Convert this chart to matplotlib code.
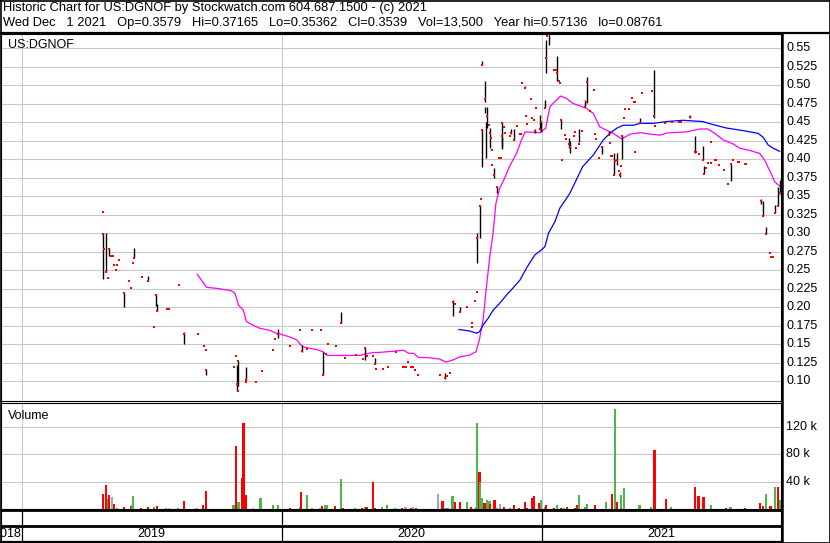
import pandas as pd
import matplotlib
matplotlib.use("Agg")
import matplotlib.pyplot as plt
from matplotlib.lines import Line2D

plt.rcParams['font.family'] = ['Liberation Sans', 'DejaVu Sans']

# ---- data ----
bar_dates = ["2019-04-25", "2019-04-29", "2019-05-03", "2019-05-24", "2019-06-07", "2019-06-27",
             "2019-07-08", "2019-07-10", "2019-08-16", "2019-09-17", "2019-10-30", "2019-11-01",
             "2019-11-11", "2019-12-27", "2020-01-29", "2020-02-28", "2020-03-24", "2020-04-27",
             "2020-05-11", "2020-08-17", "2020-08-28", "2020-09-08", "2020-10-02", "2020-10-05",
             "2020-10-08", "2020-10-09", "2020-10-12", "2020-10-13", "2020-10-14", "2020-10-15",
             "2020-10-20", "2020-10-26", "2020-10-29", "2020-11-05", "2020-11-06", "2020-11-18",
             "2020-11-23", "2020-12-08", "2020-12-22", "2020-12-29", "2020-12-31", "2021-01-05",
             "2021-01-07", "2021-01-11", "2021-01-22", "2021-01-27", "2021-02-08", "2021-02-09",
             "2021-02-22", "2021-03-03", "2021-03-05", "2021-03-26", "2021-04-05", "2021-04-12",
             "2021-04-16", "2021-04-20", "2021-04-23", "2021-05-18", "2021-06-08", "2021-07-28",
             "2021-08-04", "2021-08-16", "2021-08-17", "2021-09-23", "2021-11-05", "2021-11-08",
             "2021-11-12", "2021-11-25", "2021-11-29", "2021-12-01"]
bar_low = [0.238, 0.248, 0.270, 0.201, 0.266, 0.236, 0.202, 0.195, 0.151, 0.1086, 0.0869, 0.0936,
           0.1018, 0.159, 0.140, 0.1085, 0.1784, 0.129, 0.1234, 0.103, 0.188, 0.194, 0.2595, 0.294,
           0.390, 0.527, 0.462, 0.477, 0.402, 0.4427, 0.415, 0.375, 0.354, 0.4135, 0.416, 0.434,
           0.426, 0.497, 0.436, 0.4397, 0.4365, 0.469, 0.517, 0.554, 0.5058, 0.441, 0.415, 0.409,
           0.4235, 0.470, 0.4765, 0.407, 0.4325, 0.379, 0.392, 0.3757, 0.4004, 0.4486, 0.4555, 0.4554,
           0.409, 0.400, 0.381, 0.3711, 0.3396, 0.3238, 0.2995, 0.328, 0.337, 0.35362]
bar_high = [0.300, 0.300, 0.280, 0.220, 0.280, 0.2425, 0.2176, 0.2045, 0.166, 0.1153, 0.122, 0.127,
            0.1193, 0.1703, 0.149, 0.140, 0.1937, 0.145, 0.131, 0.1112, 0.210, 0.2008, 0.300, 0.338,
            0.441, 0.533, 0.470, 0.506, 0.451, 0.4703, 0.442, 0.3886, 0.363, 0.4305, 0.450, 0.441,
            0.441, 0.4995, 0.441, 0.460, 0.452, 0.4805, 0.561, 0.5714, 0.5396, 0.454, 0.429, 0.425,
            0.441, 0.480, 0.511, 0.418, 0.4386, 0.4087, 0.408, 0.3825, 0.4324, 0.4558, 0.521, 0.4595,
            0.4315, 0.418, 0.391, 0.3932, 0.346, 0.3436, 0.308, 0.338, 0.362, 0.37165]

close_dates = ["2019-04-24", "2019-04-25", "2019-04-26", "2019-04-29", "2019-05-01", "2019-05-03",
               "2019-05-06", "2019-05-08", "2019-05-10", "2019-05-13", "2019-05-14", "2019-05-17",
               "2019-05-24", "2019-05-31", "2019-06-03", "2019-06-06", "2019-06-07", "2019-06-18",
               "2019-06-27", "2019-07-05", "2019-07-08", "2019-07-10", "2019-07-24", "2019-07-26",
               "2019-08-09", "2019-08-16", "2019-09-05", "2019-09-13", "2019-09-16", "2019-09-17",
               "2019-10-25", "2019-10-28", "2019-10-30", "2019-10-31", "2019-11-01", "2019-11-11",
               "2019-11-12", "2019-11-25", "2019-12-04", "2019-12-20", "2019-12-23", "2019-12-27",
               "2020-01-13", "2020-01-27", "2020-01-29", "2020-02-06", "2020-02-13", "2020-02-25",
               "2020-02-28", "2020-03-03", "2020-03-06", "2020-03-17", "2020-03-24", "2020-03-30",
               "2020-04-14", "2020-04-24", "2020-04-27", "2020-04-30", "2020-05-08", "2020-05-11",
               "2020-05-12", "2020-05-22", "2020-05-29", "2020-06-10", "2020-06-19", "2020-06-22",
               "2020-06-24", "2020-06-26", "2020-07-01", "2020-07-03", "2020-07-06", "2020-07-10",
               "2020-08-10", "2020-08-17", "2020-08-20", "2020-08-25", "2020-08-28", "2020-08-31",
               "2020-09-08", "2020-09-18", "2020-09-24", "2020-09-25", "2020-09-28", "2020-10-01",
               "2020-10-02", "2020-10-05", "2020-10-07", "2020-10-08", "2020-10-09", "2020-10-13",
               "2020-10-15", "2020-10-19", "2020-10-20", "2020-10-21", "2020-10-22", "2020-10-23",
               "2020-10-26", "2020-10-29", "2020-11-02", "2020-11-04", "2020-11-05", "2020-11-06",
               "2020-11-09", "2020-11-10", "2020-11-17", "2020-11-18", "2020-11-23", "2020-11-27",
               "2020-12-01", "2020-12-03", "2020-12-04", "2020-12-08", "2020-12-10", "2020-12-11",
               "2020-12-16", "2020-12-18", "2020-12-21", "2020-12-22", "2020-12-24", "2020-12-29",
               "2020-12-31", "2021-01-05", "2021-01-07", "2021-01-08", "2021-01-12", "2021-01-18",
               "2021-01-20", "2021-01-22", "2021-01-25", "2021-01-26", "2021-01-27", "2021-01-29",
               "2021-02-02", "2021-02-03", "2021-02-08", "2021-02-09", "2021-02-15", "2021-02-16",
               "2021-02-17", "2021-02-22", "2021-02-26", "2021-03-03", "2021-03-04", "2021-03-05",
               "2021-03-10", "2021-03-15", "2021-03-17", "2021-03-18", "2021-03-22", "2021-03-26",
               "2021-04-05", "2021-04-06", "2021-04-08", "2021-04-09", "2021-04-12", "2021-04-13",
               "2021-04-16", "2021-04-19", "2021-04-20", "2021-04-22", "2021-04-23", "2021-04-26",
               "2021-04-28", "2021-05-03", "2021-05-07", "2021-05-10", "2021-05-11", "2021-05-12",
               "2021-05-18", "2021-05-21", "2021-06-04", "2021-06-08", "2021-06-09", "2021-06-23",
               "2021-07-02", "2021-07-12", "2021-07-16", "2021-07-28", "2021-08-04", "2021-08-05",
               "2021-08-09", "2021-08-16", "2021-08-17", "2021-08-20", "2021-08-23", "2021-08-26",
               "2021-08-27", "2021-09-01", "2021-09-02", "2021-09-07", "2021-09-14", "2021-09-20",
               "2021-09-23", "2021-09-27", "2021-10-04", "2021-10-05", "2021-10-14", "2021-10-15",
               "2021-11-05", "2021-11-08", "2021-11-12", "2021-11-18", "2021-11-19", "2021-11-22",
               "2021-11-25", "2021-11-29", "2021-12-01"]
close_px = [0.329, 0.2995, 0.279, 0.248, 0.239, 0.279, 0.269, 0.269, 0.257, 0.250, 0.257, 0.264,
            0.220, 0.235, 0.2265, 0.260, 0.267, 0.241, 0.236, 0.174, 0.217, 0.195, 0.198, 0.198,
            0.230, 0.164, 0.164, 0.148, 0.142, 0.115, 0.119, 0.1346, 0.0964, 0.0876, 0.127, 0.1018,
            0.099, 0.099, 0.114, 0.142, 0.157, 0.164, 0.148, 0.169, 0.1414, 0.1437, 0.169, 0.169,
            0.1085, 0.137, 0.150, 0.1477, 0.179, 0.1315, 0.136, 0.130, 0.145, 0.134, 0.134, 0.1234,
            0.1166, 0.1166, 0.119, 0.1396, 0.119, 0.119, 0.119, 0.126, 0.119, 0.119, 0.115, 0.1085,
            0.1085, 0.1045, 0.107, 0.1112, 0.207, 0.2045, 0.194, 0.200, 0.1738, 0.179, 0.209, 0.221,
            0.294, 0.337, 0.347, 0.440, 0.528, 0.4815, 0.459, 0.4464, 0.435, 0.429, 0.392, 0.413,
            0.379, 0.363, 0.402, 0.402, 0.4315, 0.449, 0.443, 0.436, 0.431, 0.436, 0.4265, 0.4454,
            0.4346, 0.4346, 0.503, 0.497, 0.4585, 0.448, 0.482, 0.456, 0.453, 0.438, 0.469, 0.441,
            0.451, 0.4698, 0.537, 0.5666, 0.5714, 0.520, 0.520, 0.517, 0.506, 0.5027, 0.4535, 0.3995,
            0.433, 0.428, 0.420, 0.417, 0.4315, 0.437, 0.415, 0.420, 0.438, 0.470, 0.478, 0.504,
            0.465, 0.4937, 0.434, 0.4275, 0.402, 0.416, 0.433, 0.422, 0.405, 0.405, 0.379, 0.3977,
            0.3995, 0.3846, 0.379, 0.391, 0.432, 0.456, 0.468, 0.468, 0.483, 0.4775, 0.4775, 0.410,
            0.4495, 0.490, 0.4927, 0.4585, 0.445, 0.4495, 0.451, 0.451, 0.451, 0.4576, 0.410, 0.410,
            0.407, 0.3995, 0.380, 0.3887, 0.3955, 0.3955, 0.4238, 0.3995, 0.3995, 0.392, 0.386, 0.3666,
            0.393, 0.3995, 0.397, 0.397, 0.3936, 0.3936, 0.344, 0.3238, 0.2995, 0.273, 0.268, 0.268,
            0.328, 0.337, 0.3539]

ma_short_dates = ["2019-09-04", "2019-09-15", "2019-09-17", "2019-10-01", "2019-10-22", "2019-10-27",
                  "2019-11-01", "2019-11-08", "2019-11-12", "2019-11-19", "2019-12-01", "2019-12-15",
                  "2019-12-24", "2019-12-31", "2020-01-12", "2020-01-22", "2020-01-26", "2020-01-30",
                  "2020-02-09", "2020-02-19", "2020-02-28", "2020-03-05", "2020-04-20", "2020-04-27",
                  "2020-05-09", "2020-05-16", "2020-06-04", "2020-06-20", "2020-06-22", "2020-06-27",
                  "2020-07-04", "2020-07-11", "2020-07-25", "2020-08-10", "2020-08-19", "2020-08-29",
                  "2020-09-07", "2020-09-21", "2020-09-30", "2020-10-05", "2020-10-10", "2020-10-15",
                  "2020-10-19", "2020-10-24", "2020-10-28", "2020-11-02", "2020-11-09", "2020-11-16",
                  "2020-11-26", "2020-12-03", "2020-12-08", "2020-12-29", "2021-01-06", "2021-01-12",
                  "2021-01-19", "2021-01-27", "2021-02-04", "2021-02-13", "2021-03-04", "2021-03-14",
                  "2021-03-23", "2021-04-01", "2021-04-11", "2021-04-23", "2021-05-05", "2021-05-19",
                  "2021-06-02", "2021-06-16", "2021-06-25", "2021-07-23", "2021-08-11", "2021-08-22",
                  "2021-09-01", "2021-09-13", "2021-09-27", "2021-10-06", "2021-10-20", "2021-11-03",
                  "2021-11-10", "2021-11-15", "2021-11-19", "2021-11-24", "2021-12-01"]
ma_short = [0.2446, 0.230, 0.227, 0.2257, 0.2224, 0.219, 0.203, 0.196, 0.181, 0.177, 0.1716, 0.169,
            0.165, 0.1635, 0.160, 0.156, 0.151, 0.147, 0.1446, 0.143, 0.140, 0.135, 0.135, 0.137,
            0.139, 0.139, 0.1405, 0.142, 0.141, 0.138, 0.138, 0.1324, 0.132, 0.130, 0.126, 0.129,
            0.133, 0.1355, 0.140, 0.157, 0.183, 0.230, 0.265, 0.300, 0.340, 0.360, 0.374, 0.390,
            0.408, 0.426, 0.437, 0.436, 0.442, 0.471, 0.478, 0.4855, 0.4825, 0.4757, 0.469, 0.462,
            0.444, 0.4396, 0.435, 0.4275, 0.434, 0.436, 0.434, 0.4326, 0.4355, 0.437, 0.441, 0.441,
            0.435, 0.426, 0.4207, 0.415, 0.412, 0.408, 0.399, 0.3887, 0.381, 0.3697, 0.364]

ma_long_dates = ["2020-09-06", "2020-09-14", "2020-09-21", "2020-10-01", "2020-10-05", "2020-10-10",
                 "2020-10-17", "2020-10-24", "2020-11-02", "2020-11-12", "2020-11-21", "2020-12-01",
                 "2020-12-10", "2020-12-22", "2020-12-31", "2021-01-05", "2021-01-10", "2021-01-19",
                 "2021-01-26", "2021-02-09", "2021-02-27", "2021-03-14", "2021-03-28", "2021-04-06",
                 "2021-04-16", "2021-04-25", "2021-05-09", "2021-05-19", "2021-06-06", "2021-06-25",
                 "2021-07-18", "2021-08-15", "2021-08-29", "2021-09-17", "2021-10-11", "2021-11-01",
                 "2021-11-08", "2021-11-15", "2021-11-22", "2021-12-01"]
ma_long = [0.170, 0.169, 0.168, 0.165, 0.167, 0.176, 0.185, 0.196, 0.205, 0.2166, 0.226, 0.237,
           0.253, 0.271, 0.2775, 0.282, 0.300, 0.3157, 0.334, 0.354, 0.390, 0.4058, 0.426, 0.435,
           0.442, 0.446, 0.446, 0.4486, 0.4486, 0.451, 0.4527, 0.451, 0.447, 0.4423, 0.4387, 0.435,
           0.4297, 0.4193, 0.415, 0.4108]

vol_dates = ["2019-04-24", "2019-04-29", "2019-05-02", "2019-05-03", "2019-05-07", "2019-05-10",
             "2019-05-14", "2019-05-24", "2019-06-03", "2019-06-04", "2019-06-06", "2019-06-17",
             "2019-06-27", "2019-07-05", "2019-07-09", "2019-07-22", "2019-07-26", "2019-08-08",
             "2019-08-16", "2019-09-03", "2019-09-12", "2019-09-16", "2019-10-25", "2019-10-29",
             "2019-11-01", "2019-11-06", "2019-11-08", "2019-11-12", "2019-11-22", "2019-12-02",
             "2019-12-19", "2019-12-27", "2020-01-13", "2020-01-27", "2020-01-28", "2020-02-05",
             "2020-02-12", "2020-02-24", "2020-02-27", "2020-03-02", "2020-03-04", "2020-03-16",
             "2020-03-24", "2020-03-27", "2020-04-13", "2020-04-23", "2020-04-27", "2020-04-29",
             "2020-05-08", "2020-05-11", "2020-05-21", "2020-05-28", "2020-06-08", "2020-06-18",
             "2020-06-22", "2020-06-24", "2020-07-01", "2020-07-03", "2020-07-08", "2020-08-07",
             "2020-08-14", "2020-08-18", "2020-08-21", "2020-08-27", "2020-08-28", "2020-08-31",
             "2020-09-08", "2020-09-17", "2020-09-23", "2020-09-30", "2020-10-02", "2020-10-05",
             "2020-10-06", "2020-10-09", "2020-10-12", "2020-10-13", "2020-10-15", "2020-10-19",
             "2020-10-20", "2020-10-26", "2020-10-30", "2020-11-03", "2020-11-09", "2020-11-17",
             "2020-11-23", "2020-11-30", "2020-12-08", "2020-12-11", "2020-12-18", "2020-12-21",
             "2020-12-28", "2020-12-30", "2021-01-05", "2021-01-07", "2021-01-18", "2021-01-22",
             "2021-01-27", "2021-02-01", "2021-02-05", "2021-02-16", "2021-02-19", "2021-02-22",
             "2021-03-02", "2021-03-05", "2021-03-17", "2021-04-01", "2021-04-09", "2021-04-14",
             "2021-04-16", "2021-04-22", "2021-04-26", "2021-05-18", "2021-06-03", "2021-06-07",
             "2021-06-08", "2021-06-24", "2021-07-01", "2021-08-04", "2021-08-09", "2021-08-16",
             "2021-08-17", "2021-08-26", "2021-09-17", "2021-09-23", "2021-10-13", "2021-11-03",
             "2021-11-08", "2021-11-12", "2021-11-17", "2021-11-19", "2021-11-25", "2021-11-29",
             "2021-12-01"]
vol_k = [21.8, 35, 14.5, 20, 17.5, 7, 2, 3, 4.4, 5.8, 19, 1.5,
         3, 3, 4.4, 1.5, 1.5, 1.5, 11.6, 1.5, 5.8, 26, 5.8, 93,
         10, 45, 126.6, 20, 1.5, 16, 5.8, 5.8, 1.5, 3, 24.7, 20,
         1.5, 1.5, 4.4, 5.8, 5.8, 4.4, 43.6, 1.5, 1.5, 1.5, 3, 3,
         39, 1.5, 3, 5.8, 1.5, 1.5, 3, 3, 2, 3, 2, 21.8,
         11.6, 1.5, 1.5, 5.8, 19, 10, 10, 10, 3, 3, 126.6, 54,
         39, 16, 8.7, 7, 13, 11.6, 7, 13, 1.5, 7, 3, 1.5,
         5.8, 1.5, 10, 2, 16, 19, 8.7, 13, 3, 5.8, 1.5, 5.8,
         1.5, 2, 3, 2, 5.8, 20, 3, 7, 5.8, 10, 21.8, 147,
         10, 20, 30.5, 5.8, 3, 30.5, 87, 14.5, 3, 32, 19, 17.5,
         14.5, 5.8, 2, 3, 2, 8.7, 4.4, 21.8, 4.4, 4.4, 32, 32,
         13.5]
vol_dir = ["d", "d", "u", "d", "n", "d", "u", "d", "d", "u", "u", "d",
           "d", "u", "d", "u", "n", "u", "d", "n", "d", "d", "u", "d",
           "u", "d", "d", "d", "n", "u", "u", "u", "d", "u", "d", "u",
           "u", "n", "d", "u", "u", "d", "u", "d", "u", "d", "u", "d",
           "d", "d", "u", "u", "u", "d", "n", "n", "d", "n", "d", "n",
           "d", "u", "u", "u", "u", "d", "d", "u", "d", "u", "u", "d",
           "u", "u", "d", "d", "u", "u", "d", "d", "u", "n", "d", "u",
           "d", "d", "d", "d", "d", "d", "d", "u", "u", "d", "d", "u",
           "d", "u", "d", "d", "d", "u", "u", "u", "d", "u", "d", "u",
           "d", "u", "u", "u", "u", "d", "d", "d", "u", "d", "d", "d",
           "d", "u", "d", "u", "d", "d", "d", "u", "d", "d", "u", "d",
           "u"]

price_ticks = [0.10, 0.125, 0.15, 0.175, 0.20, 0.225, 0.25, 0.275, 0.30, 0.325,
               0.35, 0.375, 0.40, 0.425, 0.45, 0.475, 0.50, 0.525, 0.55]
price_labels = ["0.10", "0.125", "0.15", "0.175", "0.20", "0.225", "0.25", "0.275", "0.30", "0.325",
                "0.35", "0.375", "0.40", "0.425", "0.45", "0.475", "0.50", "0.525", "0.55"]
vol_ticks = [40000, 80000, 120000]
vol_labels = ["40 k", "80 k", "120 k"]
year_starts = ["2019-01-01", "2020-01-01", "2021-01-01"]
year_labels = ["2018", "2019", "2020", "2021"]
year_label_pos = ["2018-12-31", "2019-07-02", "2020-07-01", "2021-06-18"]

header1 = "Historic Chart for US:DGNOF by Stockwatch.com 604.687.1500 - (c) 2021"
header2 = ("Wed Dec   1 2021   Op=0.3579   Hi=0.37165   Lo=0.35362   Cl=0.3539   Vol=13,500   "
           "Year hi=0.57136   lo=0.08761")

# ---- layout (pixel based) ----
W, H = 830, 543
def rect(x0, y0, x1, y1):
    return [x0 / W, 1 - y1 / H, (x1 - x0) / W, (y1 - y0) / H]

def fx(x):
    return x / W

def fy(y):
    return 1 - y / H

XLIM = (pd.Timestamp("2018-12-02"), pd.Timestamp("2021-12-03"))
GRID = "#c8c8c8"

fig = plt.figure(figsize=(8.3, 5.43), dpi=100)
fig.patch.set_facecolor("white")

ax = fig.add_axes(rect(1, 34, 781, 400.5))
axv = fig.add_axes(rect(1, 402.5, 781, 509))
axd = fig.add_axes(rect(1, 509.5, 781, 541.5))

for a in (ax, axv, axd):
    a.set_xlim(*XLIM)
    a.set_xticks([])
    a.set_yticks([])
    for s in a.spines.values():
        s.set_linewidth(0.8)
        s.set_color("black")

# price panel
ax.set_ylim(0.0741, 0.5693)
for t in price_ticks:
    ax.axhline(t, color=GRID, lw=0.75, zorder=0)
for d in year_starts:
    ax.axvline(pd.Timestamp(d), color=GRID, lw=0.75, zorder=0)

ax.plot(pd.to_datetime(ma_short_dates), ma_short, color="#ff00ff", lw=0.9, zorder=2)
ax.plot(pd.to_datetime(ma_long_dates), ma_long, color="#0000ff", lw=0.9, zorder=2)
ax.vlines(pd.to_datetime(bar_dates), bar_low, bar_high, color="black", lw=1.0, zorder=3)
ax.scatter(pd.to_datetime(close_dates), close_px, marker="s", s=3.4, color="#ff0000",
           linewidths=0, zorder=4)
ax.text(0.009, 0.985, "US:DGNOF", transform=ax.transAxes, ha="left", va="top", fontsize=9)

for t, lab in zip(price_ticks, price_labels):
    ax.text(1.0065, t, lab, transform=ax.get_yaxis_transform(), ha="left", va="center",
            fontsize=9, clip_on=False)

# volume panel
axv.set_ylim(0, 156000)
for t in vol_ticks:
    axv.axhline(t, color=GRID, lw=0.75, zorder=0)
for d in year_starts:
    axv.axvline(pd.Timestamp(d), color=GRID, lw=0.75, zorder=0)
col_map = {"d": "#ff0000", "u": "#4cb84c", "n": "#a8a8a8"}
axv.bar(pd.to_datetime(vol_dates), [v * 1000 for v in vol_k], width=3.0,
        color=[col_map[c] for c in vol_dir], linewidth=0, zorder=2)
axv.text(0.009, 0.93, "Volume", transform=axv.transAxes, ha="left", va="top", fontsize=9)
for t, lab in zip(vol_ticks, vol_labels):
    axv.text(1.0065, t, lab, transform=axv.get_yaxis_transform(), ha="left", va="center",
             fontsize=9, clip_on=False)

# date strip
axd.set_ylim(0, 1)
axd.axhline(0.5, color="black", lw=2.0)
for d in year_starts:
    axd.axvline(pd.Timestamp(d), color="black", lw=0.9)
for d, lab in zip(year_label_pos, year_labels):
    ha = "right" if lab == "2018" else "center"
    axd.text(pd.Timestamp(d), 0.22, lab, ha=ha, va="center", fontsize=9, clip_on=True)

# header text
fig.text(fx(3), fy(8.5), header1, ha="left", va="center", fontsize=9.3)
fig.text(fx(3), fy(23), header2, ha="left", va="center", fontsize=9.3)

# heavy frame lines
def fline(x0, y0, x1, y1, lw):
    fig.add_artist(Line2D([fx(x0), fx(x1)], [fy(y0), fy(y1)], color="black", lw=lw,
                          transform=fig.transFigure, solid_capstyle="butt"))

fline(0, 32.5, 830, 32.5, 1.6)
fline(781.5, 32, 781.5, 543, 1.8)
fline(0, 510, 782, 510, 2.0)
fline(0, 541.5, 782, 541.5, 1.6)
fline(0.5, 0, 0.5, 543, 1.2)
fline(829.5, 0, 829.5, 543, 1.2)
fline(0, 0.5, 830, 0.5, 1.2)
fline(0, 542.5, 830, 542.5, 1.2)

fig.savefig("out.png", dpi=100)
plt.close(fig)
